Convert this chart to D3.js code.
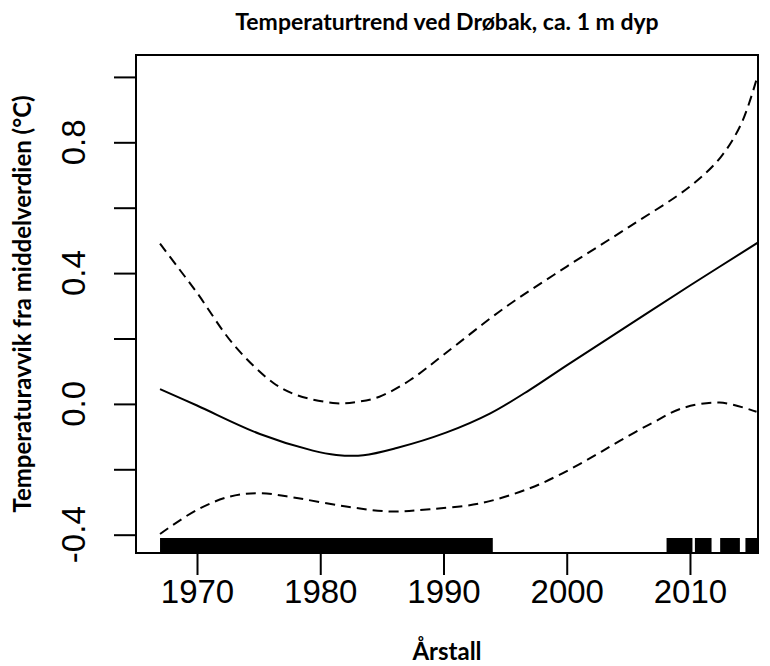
<!DOCTYPE html>
<html>
<head>
<meta charset="utf-8">
<script src="https://cdn.jsdelivr.net/npm/d3@7/dist/d3.min.js"></script>
<style>
  body { margin: 0; background: #ffffff; }
</style>
</head>
<body>
<svg class="chart" width="770" height="666"></svg>
<script>
// Fitted trend (solid line)
var fitYears = [1967.0, 1970.0, 1975.1, 1979.4, 1981.3, 1983.5, 1986.2, 1990.2, 1993.8, 1997.0, 2000.0, 2005.0, 2010.0, 2015.5]
var fitValues = [0.045, -0.005, -0.092, -0.143, -0.156, -0.157, -0.135, -0.088, -0.029, 0.043, 0.118, 0.240, 0.362, 0.493]

// Upper confidence band (dashed)
var upperYears = [1967.0, 1968.5, 1970.0, 1973.0, 1976.2, 1978.1, 1981.3, 1983.0, 1984.8, 1987.3, 1990.0, 1995.0, 2000.0, 2005.0, 2010.0, 2012.5, 2014.2, 2015.5]
var upperValues = [0.490, 0.415, 0.340, 0.180, 0.064, 0.027, 0.002, 0.006, 0.022, 0.073, 0.150, 0.295, 0.420, 0.540, 0.665, 0.755, 0.860, 1.005]

// Lower confidence band (dashed)
var lowerYears = [1967.0, 1970.0, 1972.7, 1975.1, 1978.1, 1982.1, 1985.7, 1988.9, 1993.0, 1997.0, 1999.4, 2001.9, 2004.3, 2007.0, 2009.4, 2012.4, 2015.4]
var lowerValues = [-0.398, -0.324, -0.283, -0.273, -0.288, -0.314, -0.329, -0.322, -0.304, -0.258, -0.217, -0.166, -0.113, -0.057, -0.013, 0.004, -0.024]

// Rug: periods with observations (start year, end year)
var rugStart = [1967.0, 2008.1, 2010.4, 2012.45, 2014.5]
var rugEnd = [1994.0, 2010.2, 2011.75, 2014.05, 2015.45]

// Ticks
var xTicks = [1970, 1980, 1990, 2000, 2010]
var yTicks = [-0.4, -0.2, 0.0, 0.2, 0.4, 0.6, 0.8, 1.0]
var yLabelled = [-0.4, 0.0, 0.4, 0.8]

// plot box (note: "top" is taken by window.top, so use other names)
var boxLeft = 136, boxRight = 758, boxTop = 55, boxBottom = 553

var svg = d3.select(".chart")

svg.append("rect")
  .attr("width", 770).attr("height", 666)
  .attr("fill", "#ffffff")

var x = d3.scaleLinear()
  .domain([1965.05, 2015.52])
  .range([boxLeft, boxRight])

var y = d3.scaleLinear()
  .domain([-0.456, 1.067])
  .range([boxBottom, boxTop])

// clip so the curves stop at the box
svg.append("clipPath").attr("id", "plotclip")
  .append("rect")
  .attr("x", boxLeft).attr("y", boxTop)
  .attr("width", boxRight - boxLeft).attr("height", boxBottom - boxTop)

var plot = svg.append("g").attr("clip-path", "url(#plotclip)")

function makeLine(years, values) {
  var pts = years.map(function(d, i) { return [d, values[i]] })
  return d3.line()
    .x(function(d) { return x(d[0]) })
    .y(function(d) { return y(d[1]) })
    .curve(d3.curveCatmullRom.alpha(0.5))(pts)
}

plot.append("path")
  .attr("d", makeLine(fitYears, fitValues))
  .attr("fill", "none")
  .attr("stroke", "#000")
  .attr("stroke-width", 2)

plot.append("path")
  .attr("d", makeLine(upperYears, upperValues))
  .attr("fill", "none")
  .attr("stroke", "#000")
  .attr("stroke-width", 2)
  .attr("stroke-dasharray", "10,6")

plot.append("path")
  .attr("d", makeLine(lowerYears, lowerValues))
  .attr("fill", "none")
  .attr("stroke", "#000")
  .attr("stroke-width", 2)
  .attr("stroke-dasharray", "10,6")

// rug blocks along the bottom
plot.selectAll(".rug")
  .data(rugStart)
  .enter()
  .append("rect")
  .attr("class", "rug")
  .attr("x", function(d) { return x(d) })
  .attr("width", function(d, i) { return x(rugEnd[i]) - x(d) })
  .attr("y", boxBottom - 15)
  .attr("height", 15)
  .attr("fill", "#000")

// x axis
var xAxis = d3.axisBottom(x)
  .tickValues(xTicks)
  .tickSize(22)
  .tickPadding(8)
  .tickFormat(d3.format("d"))

var gx = svg.append("g")
  .attr("transform", "translate(0," + boxBottom + ")")
  .call(xAxis)
gx.select(".domain").remove()
gx.selectAll("line").attr("stroke-width", 2)
gx.selectAll("text")
  .attr("dy", null)
  .attr("y", 50)
  .style("font-family", "Liberation Sans, Arial, sans-serif")
  .style("font-size", "33px")
  .attr("fill", "#000")

// y axis, labels rotated like R does
var yAxis = d3.axisLeft(y)
  .tickValues(yTicks)
  .tickSize(22)
  .tickFormat("")

var gy = svg.append("g")
  .attr("transform", "translate(" + boxLeft + ",0)")
  .call(yAxis)
gy.select(".domain").remove()
gy.selectAll("line").attr("stroke-width", 2)

svg.selectAll(".ylab")
  .data(yLabelled)
  .enter()
  .append("text")
  .attr("class", "ylab")
  .attr("transform", function(d) {
    return "translate(85," + y(d) + ") rotate(-90)"
  })
  .attr("text-anchor", "middle")
  .style("font-family", "Liberation Sans, Arial, sans-serif")
  .style("font-size", "33px")
  .text(function(d) { return d3.format(".1f")(d).replace("\u2212", "-") })

// box
svg.append("rect")
  .attr("x", boxLeft).attr("y", boxTop)
  .attr("width", boxRight - boxLeft).attr("height", boxBottom - boxTop)
  .attr("fill", "none")
  .attr("stroke", "#000")
  .attr("stroke-width", 2)

// title and axis labels
svg.append("text")
  .attr("x", (boxLeft + boxRight) / 2)
  .attr("y", 30)
  .attr("text-anchor", "middle")
  .style("font-family", "Lato, sans-serif")
  .style("font-weight", "bold")
  .style("font-size", "23px")
  .text("Temperaturtrend ved Drøbak, ca. 1 m dyp")

svg.append("text")
  .attr("x", (boxLeft + boxRight) / 2)
  .attr("y", 660)
  .attr("text-anchor", "middle")
  .style("font-family", "Lato, sans-serif")
  .style("font-weight", "bold")
  .style("font-size", "24px")
  .text("Årstall")

svg.append("text")
  .attr("transform", "translate(31," + (boxTop + boxBottom) / 2 + ") rotate(-90)")
  .attr("text-anchor", "middle")
  .style("font-family", "Lato, sans-serif")
  .style("font-weight", "bold")
  .style("font-size", "24px")
  .text("Temperaturavvik fra middelverdien (°C)")
</script>
</body>
</html>
